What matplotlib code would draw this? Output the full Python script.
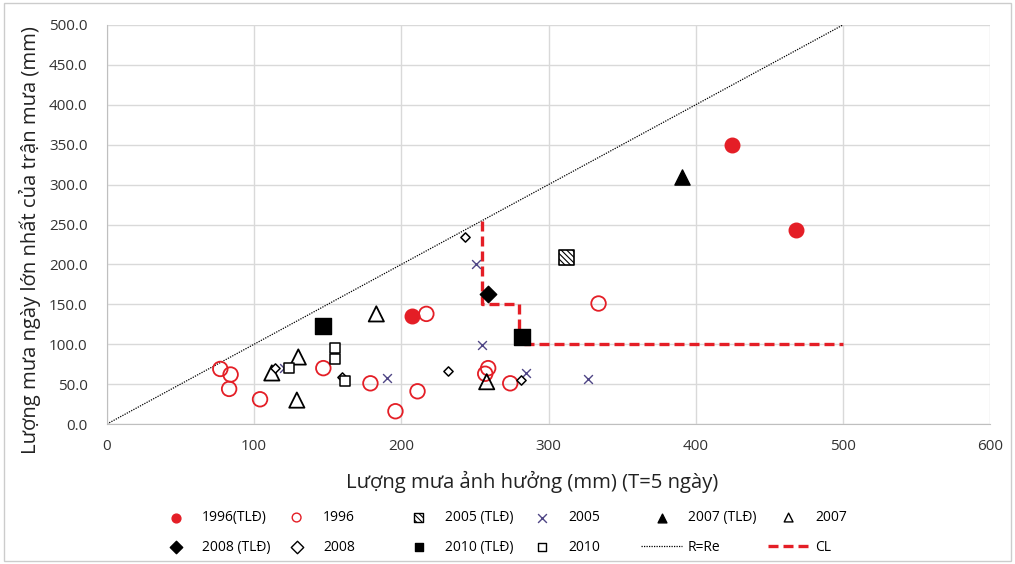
import matplotlib
matplotlib.use("Agg")
import matplotlib.pyplot as plt
from matplotlib.patches import Rectangle
from matplotlib.collections import PathCollection

plt.rcParams['font.family'] = ['Open Sans', 'DejaVu Sans']
plt.rcParams['hatch.linewidth'] = 0.8

# du lieu doc tu hinh
x96_tld = [425, 468, 207]
y96_tld = [350, 243, 135]
x96 = [77, 84, 83, 104, 147, 179, 196, 211, 217, 259, 257, 274, 334]
y96 = [69, 62, 44, 31, 70, 51, 16, 41, 138, 70, 63, 51, 151]
x05_tld = [312]
y05_tld = [209]
x05 = [251, 255, 190, 285, 327, 120, 154]
y05 = [200, 99, 58, 64, 56, 70, 86]
x07_tld = [391]
y07_tld = [310]
x07 = [130, 112, 129, 183, 258]
y07 = [84, 64, 30, 138, 53]
x08_tld = [259]
y08_tld = [163]
x08 = [243, 232, 281, 114, 160]
y08 = [234, 66, 55, 70, 59]
x10_tld = [147, 282]
y10_tld = [123, 109]
x10 = [124, 155, 155, 162]
y10 = [70, 95, 81, 54]
x_rre = [0, 500]
y_rre = [0, 500]
x_cl = [255, 255, 280, 280, 500]
y_cl = [255, 150, 150, 100, 100]

red = '#e41e26'
purple = '#4e4585'

fig = plt.figure(figsize=(10.15, 5.64), dpi=100)
ax = fig.add_axes([0.1054, 0.2482, 0.8700, 0.7075])

h = {}
h['1996(TLĐ)'] = ax.scatter(x96_tld, y96_tld, s=110, c=red, zorder=3)
h['1996'] = ax.scatter(x96, y96, s=110, facecolors='none', edgecolors=red, linewidths=1.3, zorder=3)
h['2005 (TLĐ)'] = ax.scatter(x05_tld, y05_tld, s=120, marker='s', facecolors='white', edgecolors='black',
                             hatch='\\\\\\\\\\\\', linewidths=1.2, zorder=3)
h['2005'] = ax.scatter(x05, y05, s=40, marker='x', c=purple, linewidths=1.0, zorder=3)
h['2007 (TLĐ)'] = ax.scatter(x07_tld, y07_tld, s=120, marker='^', c='black', zorder=3)
h['2007'] = ax.scatter(x07, y07, s=120, marker='^', facecolors='none', edgecolors='black', linewidths=1.3, zorder=3)
h['2008 (TLĐ)'] = ax.scatter(x08_tld, y08_tld, s=70, marker='D', c='black', zorder=3)
h['2008'] = ax.scatter(x08, y08, s=22, marker='D', facecolors='white', edgecolors='black', linewidths=1.1, zorder=3)
h['2010 (TLĐ)'] = ax.scatter(x10_tld, y10_tld, s=120, marker='s', c='black', zorder=3)
h['2010'] = ax.scatter(x10, y10, s=45, marker='s', facecolors='white', edgecolors='black', linewidths=1.1, zorder=3)
h['R=Re'], = ax.plot(x_rre, y_rre, color='black', linestyle=(0, (1, 1)), linewidth=0.9, zorder=2)
h['CL'], = ax.plot(x_cl, y_cl, color=red, linestyle=(0, (3, 1.5)), linewidth=2.4, zorder=2)

ax.set_xlim(0, 600)
ax.set_ylim(0, 500)
ax.set_xticks(range(0, 601, 100))
ax.set_yticks(range(0, 501, 50))
ax.set_yticklabels(['%.1f' % v for v in range(0, 501, 50)])
ax.tick_params(length=0, labelsize=11, colors='#333333')
ax.tick_params(axis='x', pad=11)
ax.tick_params(axis='y', pad=14)
ax.grid(True, color='#d9d9d9', linewidth=1.0)
ax.set_axisbelow(True)
for s in ['top', 'right']:
    ax.spines[s].set_visible(False)
for s in ['left', 'bottom']:
    ax.spines[s].set_color('#bfbfbf')

ax.set_xlabel('Lượng mưa ảnh hưởng (mm) (T=5 ngày)', fontsize=14.6, labelpad=12, color='#222222')
ax.xaxis.label.set_x(0.482)
ax.set_ylabel('Lượng mưa ngày lớn nhất của trận mưa (mm)', fontsize=14.6, labelpad=6, color='#222222')
ax.yaxis.label.set_y(0.46)

# chu thich: 6 cot, moi cot 2 dong (vi tri chu theo hinh goc)
cols = [
    (['1996(TLĐ)', '2008 (TLĐ)'], 202),
    (['1996', '2008'], 323),
    (['2005 (TLĐ)', '2010 (TLĐ)'], 445),
    (['2005', '2010'], 568),
    (['2007 (TLĐ)', 'R=Re'], 688),
    (['2007', 'CL'], 815),
]
fs = 10
em = fs * 100 / 72.0
for names, tx in cols:
    left = tx - 0.4 * em - 3.0 * em
    leg = fig.legend([h[n] for n in names], names, loc='center left', bbox_to_anchor=(left / 1015, 0.0559),
                     ncol=1, frameon=False, fontsize=fs, handlelength=3.0, handletextpad=0.4,
                     borderpad=0, borderaxespad=0, labelspacing=1.05)
    for lh in leg.legend_handles:
        if isinstance(lh, PathCollection):
            lh.set_sizes([40])
            lh.set_linewidth(1.0)

fig.patches.append(Rectangle((0.004, 0.006), 0.992, 0.988, transform=fig.transFigure,
                             fill=False, edgecolor='#cccccc', linewidth=1.0))

fig.savefig('out.png', dpi=100)
